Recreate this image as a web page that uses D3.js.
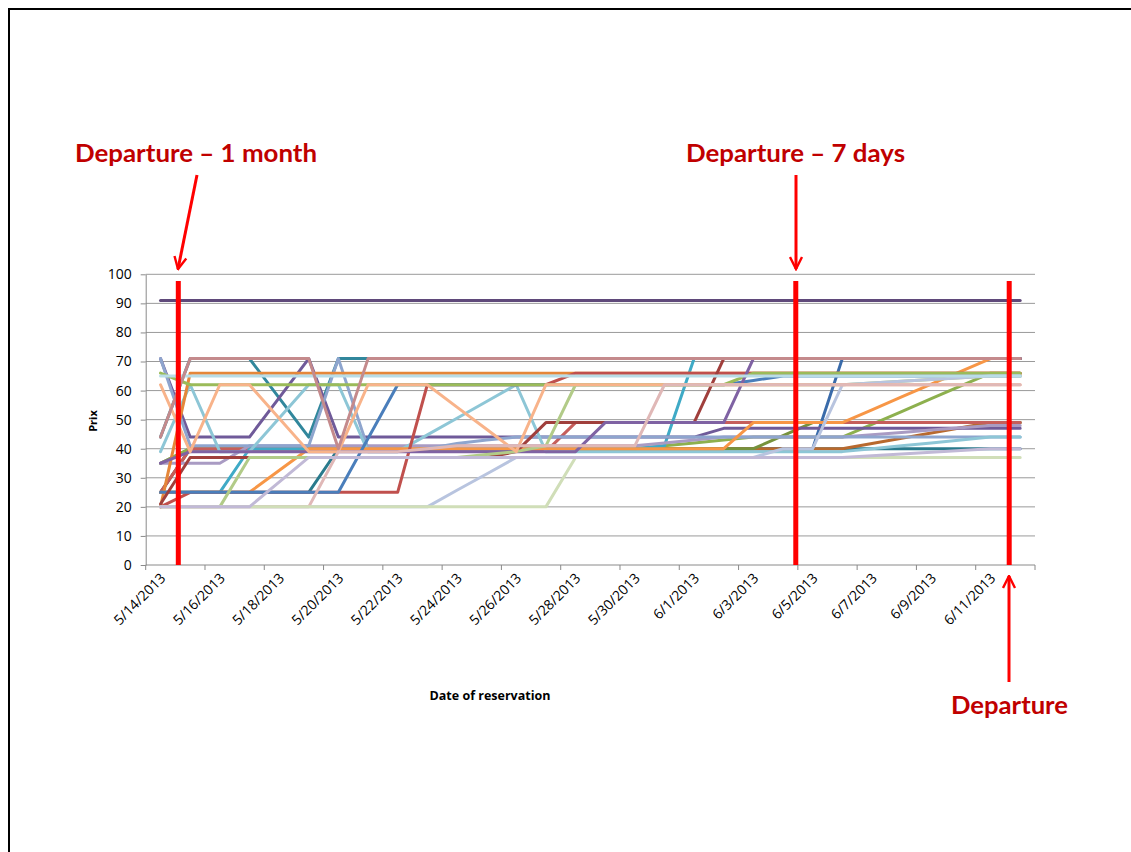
<!DOCTYPE html>
<html>
<head>
<meta charset="utf-8">
<title>Prix vs date of reservation</title>
<script src="https://d3js.org/d3.v7.min.js"></script>
<style>
  body { margin: 0; background: #fff; }
  text { font-family: "Open Sans", "DejaVu Sans", sans-serif; }
</style>
</head>
<body>
<script>
// categories: reservation dates (one per day)
const dates = ["5/14/2013","5/15/2013","5/16/2013","5/17/2013","5/18/2013","5/19/2013",
  "5/20/2013","5/21/2013","5/22/2013","5/23/2013","5/24/2013","5/25/2013","5/26/2013",
  "5/27/2013","5/28/2013","5/29/2013","5/30/2013","5/31/2013","6/1/2013","6/2/2013",
  "6/3/2013","6/4/2013","6/5/2013","6/6/2013","6/7/2013","6/8/2013","6/9/2013",
  "6/10/2013","6/11/2013","6/12/2013"];

const yTicks = [0, 10, 20, 30, 40, 50, 60, 70, 80, 90, 100];

// price series (drawing order = back to front)
const darkTeal2 = [25,25,25,25,25,25,40,40,40,40,40,40,40,40,40,40,40,40,40,40,40,40,40,40,40,40,40,40,40,40];
const blue2 = [25,40,40,40,40,40,40,40,40,40,40,40,40,40,40,40,40,40,40,40,40,40,40,71,71,71,71,71,71,71];
const brown = [25,40,40,40,40,40,40,40,40,40,40,40,40,40,40,40,40,40,40,40,40,40,40,40,41.8,43.6,45.4,47.2,49,49];
const olive = [35,40,40,40,40,40,40,40,40,40,40,40,40,40,40,40,40,40,40,40,40,44.5,49,49,49,49,49,49,49,49];
const green3 = [35,40,40,40,40,40,40,40,40,40,40,40,40,40,40,40,40,41,42,43,44,44,44,44,48.4,52.8,57.2,61.6,66,66];
const red2 = [25,40,40,40,40,40,40,40,40,40,40,40,40,39,49,49,49,49,49,49,49,49,49,49,49,49,49,49,49,49];
const aqua = [25,25,25,40,40,40,40,40,40,40,40,40,40,40,40,40,40,41,71,71,71,71,71,71,71,71,71,71,71,71];
const darkTeal = [44,71,71,71,57.5,44,71,71,71,71,71,71,71,71,71,71,71,71,71,71,71,71,71,71,71,71,71,71,71,71];
const purple1 = [71,44,44,44,57.5,71,44,44,44,44,44,44,44,44,44,44,44,44,44,47,47,47,47,47,47,47,47,47,47,47];
const lavender = [35,35,35,41,41,41,41,41,41,41,41,41,41,41,41,41,41,42,43,44,44,44,44,44,44.8,45.6,46.4,47.2,48,48];
const blueGray = [71,41,41,41,41,41,71,40,40,40,41.8,43,44,44,44,44,44,44,44,44,44,44,44,44,44,44,44,44,44,44];
const lightBlue = [39,62,39,39,50.5,62,62,39,39,44.75,50.5,56.25,62,39,39,39,39,39,39,39,39,39,39,39,40,41,42,43,44,44];
const orange2 = [25,25,25,25,32.5,40,40,40,40,40,40,40,40,40,40,40,40,40,40,40,49,49,49,49,53.4,57.8,62.2,66.6,71,71];
const orange = [20,66,66,66,66,66,66,66,66,66,66,66,66,66,66,66,66,66,66,66,66,66,66,66,66,66,66,66,66,66];
const red = [20,25,25,25,25,25,25,25,25,62,62,62,62,62,66,66,66,66,66,66,66,66,66,66,66,66,66,66,66,66];
const blue1 = [25,25,25,25,25,25,25,43.5,62,62,62,62,62,62,62,62,62,62,62,62,63.5,65,65,65,65,65,65,65,65,65];
const green = [66,62,62,62,62,62,62,62,62,62,62,62,62,62,62,62,62,62,62,62,66,66,66,66,66,66,66,66,66,66];
const darkRed = [21,37,37,37,37,37,37,37,37,37,37,37,39,49,49,49,49,49,49,71,71,71,71,71,71,71,71,71,71,71];
const purple2 = [35,39,39,39,39,39,39,39,39,39,39,39,39,39,39,49,49,49,49,49,71,71,71,71,71,71,71,71,71,71];
const lightGreen2 = [20,20,20,37,37,37,37,37,37,37,37,38,39,41,62,62,62,62,62,62,62,62,62,62,62.6,63.2,63.8,64.4,65,65];
const lightBlueGray = [20,20,20,20,20,20,20,20,20,20,25.7,31.3,37,37,37,37,37,37,37,37,37,40,40,62,62.6,63.2,63.8,64.4,65,65];
const peach = [62,39,62,62,50.5,39,39,62,62,62,54.3,46.7,39,62,62,62,62,62,62,62,62,62,62,62,62,62,62,62,62,62];
const lightPink = [20,20,20,20,20,20,39,39,39,40,41,41,41,41,41,41,41,62,62,62,62,62,62,62,62,62,62,62,62,62];
const paleGreen = [20,20,20,20,20,20,20,20,20,20,20,20,20,20,37,37,37,37,37,37,37,37,37,37,37,37,37,37,37,37];
const lavenderGray = [20,20,20,20,28.5,37,37,37,37,37,37,37,37,37,37,37,37,37,37,37,37,37,37,37,37.6,38.2,38.8,39.4,40,40];
const lightCyan = [65,65,65,65,65,65,65,65,65,65,65,65,65,65,65,65,65,65,65,65,65,65,65,65,65,65,65,65,65,65];
const mauve = [44,71,71,71,71,71,40,71,71,71,71,71,71,71,71,71,71,71,71,71,71,71,71,71,71,71,71,71,71,71];
const darkPurple = [91,91,91,91,91,91,91,91,91,91,91,91,91,91,91,91,91,91,91,91,91,91,91,91,91,91,91,91,91,91];

const series = [
  {values: darkTeal2, color: "#2A7A8C"},
  {values: blue2, color: "#3A6BAA"},
  {values: brown, color: "#B8692E"},
  {values: olive, color: "#76923C"},
  {values: green3, color: "#8DB04E"},
  {values: red2, color: "#C65E5B"},
  {values: aqua, color: "#3FAAC6"},
  {values: darkTeal, color: "#31879C"},
  {values: purple1, color: "#6F5A99"},
  {values: lavender, color: "#A99BC3"},
  {values: blueGray, color: "#8EA5CE"},
  {values: lightBlue, color: "#8DC6D6"},
  {values: orange2, color: "#F79646"},
  {values: orange, color: "#E5873A"},
  {values: red, color: "#C0504D"},
  {values: blue1, color: "#4A7EBB"},
  {values: green, color: "#9BBB59"},
  {values: darkRed, color: "#A03F3C"},
  {values: purple2, color: "#7F62A3"},
  {values: lightGreen2, color: "#B2CB88"},
  {values: lightBlueGray, color: "#B8C4DF"},
  {values: peach, color: "#F8B38A"},
  {values: lightPink, color: "#E0B8B7"},
  {values: paleGreen, color: "#D0DEB8"},
  {values: lavenderGray, color: "#C1B9D6"},
  {values: lightCyan, color: "#B9DDE7"},
  {values: mauve, color: "#C48A8C"},
  {values: darkPurple, color: "#5F497A"}
];

// annotation markers, position in days after the first date
const markers = [
  {pos: 0.6, label: "Departure \u2013 1 month", textX: 75, textY: 162, width: 242, arrow: [[197, 175], [178, 269]]},
  {pos: 21.43, label: "Departure \u2013 7 days", textX: 686, textY: 162, width: 219, arrow: [[796, 175], [796, 269]]},
  {pos: 28.63, label: "Departure", textX: 951, textY: 714, width: 117, arrow: [[1009, 682], [1009, 576]]}
];

const width = 1131, height = 852;
const plotLeft = 145.7, plotRight = 1035, plotBottom = 565, plotTop = 274.3;

const svg = d3.select("body").append("svg")
  .attr("width", width)
  .attr("height", height);

svg.append("defs").append("marker")
  .attr("id", "head")
  .attr("viewBox", "0 0 10 10")
  .attr("refX", 9).attr("refY", 5)
  .attr("markerWidth", 5).attr("markerHeight", 5)
  .attr("markerUnits", "strokeWidth")
  .attr("orient", "auto")
  .append("path")
  .attr("d", "M1,1 L9,5 L1,9")
  .attr("fill", "none")
  .attr("stroke", "#FF0000")
  .attr("stroke-width", 1.6);

// slide frame
svg.append("rect")
  .attr("x", 9).attr("y", 9)
  .attr("width", 1200).attr("height", 900)
  .attr("fill", "none")
  .attr("stroke", "#000")
  .attr("stroke-width", 2);

const x = d3.scalePoint().domain(dates).range([plotLeft, plotRight]).padding(0.5);
const band = d3.scaleBand().domain(dates).range([plotLeft, plotRight]);
const y = d3.scaleLinear().domain([0, 100]).range([plotBottom, plotTop]);

// gridlines
svg.append("g").selectAll("line")
  .data(yTicks.slice(1))
  .join("line")
  .attr("x1", plotLeft).attr("x2", plotRight)
  .attr("y1", d => y(d)).attr("y2", d => y(d))
  .attr("stroke", "#9a9a9a")
  .attr("stroke-width", 1);

// y axis
const yAxis = svg.append("g")
  .attr("transform", `translate(${plotLeft},0)`)
  .call(d3.axisLeft(y).tickValues(yTicks).tickSize(5).tickSizeOuter(0).tickPadding(9));
yAxis.select(".domain").attr("stroke", "#8a8a8a");
yAxis.selectAll(".tick line").attr("stroke", "#8a8a8a");
yAxis.selectAll(".tick text")
  .attr("font-size", 14)
  .attr("fill", "#000")
  .style("font-family", "'Open Sans', sans-serif");

// x axis
const xg = svg.append("g");
xg.append("line")
  .attr("x1", plotLeft).attr("x2", plotRight)
  .attr("y1", plotBottom).attr("y2", plotBottom)
  .attr("stroke", "#8a8a8a");
const tickDates = dates.filter((d, i) => i % 2 === 0);
xg.selectAll("line.tk")
  .data(tickDates.map(d => band(d)).concat([plotRight]))
  .join("line")
  .attr("class", "tk")
  .attr("x1", d => d).attr("x2", d => d)
  .attr("y1", plotBottom).attr("y2", plotBottom + 5)
  .attr("stroke", "#8a8a8a");
xg.selectAll("text")
  .data(tickDates)
  .join("text")
  .attr("transform", d => `translate(${x(d) + 6},${plotBottom + 14}) rotate(-45)`)
  .attr("text-anchor", "end")
  .attr("font-size", 14)
  .text(d => d);

// series lines
const line = d3.line()
  .x((d, i) => x(dates[i]))
  .y(d => y(d));

svg.append("g").selectAll("path")
  .data(series)
  .join("path")
  .attr("d", d => line(d.values))
  .attr("fill", "none")
  .attr("stroke", d => d.color)
  .attr("stroke-width", 3)
  .attr("stroke-linejoin", "round")
  .attr("stroke-linecap", "round");

// axis titles
svg.append("text")
  .attr("x", 490).attr("y", 700)
  .attr("text-anchor", "middle")
  .attr("font-size", 12.5)
  .attr("font-weight", "bold")
  .text("Date of reservation");

svg.append("text")
  .attr("transform", "translate(97,421) rotate(-90)")
  .attr("text-anchor", "middle")
  .attr("font-size", 11)
  .attr("font-weight", "bold")
  .text("Prix");

// departure markers
const step = x.step();
svg.append("g").selectAll("line")
  .data(markers)
  .join("line")
  .attr("x1", d => x(dates[0]) + d.pos * step)
  .attr("x2", d => x(dates[0]) + d.pos * step)
  .attr("y1", 281).attr("y2", plotBottom)
  .attr("stroke", "#FF0000")
  .attr("stroke-width", 5);

svg.append("g").selectAll("line")
  .data(markers)
  .join("line")
  .attr("x1", d => d.arrow[0][0]).attr("y1", d => d.arrow[0][1])
  .attr("x2", d => d.arrow[1][0]).attr("y2", d => d.arrow[1][1])
  .attr("stroke", "#FF0000")
  .attr("stroke-width", 3)
  .attr("marker-end", "url(#head)");

svg.append("g").selectAll("text")
  .data(markers)
  .join("text")
  .attr("x", d => d.textX).attr("y", d => d.textY)
  .attr("textLength", d => d.width)
  .attr("lengthAdjust", "spacingAndGlyphs")
  .attr("font-size", 24)
  .attr("font-weight", "bold")
  .attr("fill", "#C00000")
  .style("font-family", "Lato, 'Open Sans', sans-serif")
  .text(d => d.label);
</script>
</body>
</html>
